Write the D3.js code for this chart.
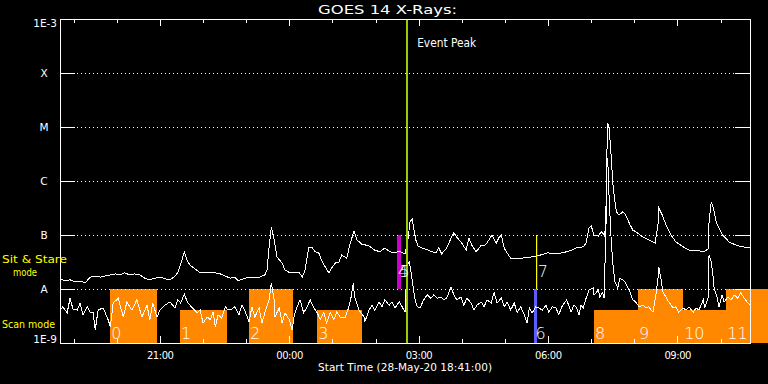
<!DOCTYPE html>
<html><head><meta charset="utf-8">
<script src="https://cdn.jsdelivr.net/npm/d3@7"></script>
<style>body{margin:0;background:#000;}svg{display:block;}text{font-family:"DejaVu Sans",sans-serif;}</style>
</head><body><svg id="c" width="768" height="384"></svg>
<script>
// ---------------- data ----------------
const startTime = Date.UTC(2020, 4, 28, 18, 41, 0);   // 28-May-20 18:41:00
const spanMinutes = 960;
const titleText = "GOES 14 X-Rays:";
const xAxisTitle = "Start Time (28-May-20 18:41:00)";
const yTickValues = [1e-9, 1e-8, 1e-7, 1e-6, 1e-5, 1e-4, 1e-3];
const yTickLabels = ["1E-9", "A", "B", "C", "M", "X", "1E-3"];
const eventPeakMinutes = 483;
const eventLabel = "Event Peak";

// [minutes since start, log10 flux (W/m^2)] - long channel (1-8 A)
const longChannel = [[0,-7.81],[7,-7.85],[14,-7.83],[21,-7.87],[28,-7.85],[35,-7.89],[42,-7.78],[49,-7.76],[56,-7.78],[63,-7.76],[70,-7.74],[77,-7.72],[83,-7.74],[90,-7.70],[97,-7.74],[104,-7.72],[111,-7.74],[118,-7.80],[125,-7.83],[132,-7.80],[139,-7.78],[146,-7.81],[153,-7.83],[160,-7.76],[164,-7.69],[168,-7.54],[173,-7.31],[177,-7.48],[181,-7.56],[188,-7.63],[195,-7.70],[202,-7.69],[209,-7.70],[216,-7.70],[223,-7.72],[230,-7.76],[237,-7.80],[243,-7.78],[248,-7.85],[257,-7.80],[267,-7.78],[278,-7.78],[285,-7.74],[288,-7.65],[291,-7.22],[294,-6.85],[298,-7.09],[302,-7.41],[309,-7.52],[313,-7.65],[320,-7.70],[327,-7.69],[333,-7.70],[337,-7.78],[341,-7.65],[346,-7.24],[351,-7.24],[355,-7.31],[360,-7.33],[365,-7.50],[369,-7.59],[374,-7.70],[378,-7.61],[383,-7.52],[388,-7.50],[392,-7.37],[399,-7.43],[403,-7.19],[409,-6.93],[413,-7.09],[420,-7.17],[430,-7.20],[438,-7.28],[445,-7.31],[452,-7.24],[459,-7.31],[466,-7.33],[472,-7.30],[476,-7.33],[480,-7.35],[484,-7.09],[487,-6.76],[490,-6.70],[493,-6.94],[495,-7.09],[498,-7.20],[504,-7.24],[512,-7.28],[518,-7.31],[523,-7.33],[527,-7.24],[531,-7.35],[538,-7.24],[544,-7.06],[548,-6.96],[552,-7.04],[559,-7.15],[565,-7.28],[569,-7.06],[573,-7.19],[579,-7.31],[586,-7.19],[590,-7.20],[594,-7.15],[601,-7.00],[607,-7.15],[611,-7.04],[614,-7.00],[618,-7.24],[622,-7.33],[627,-7.43],[632,-7.44],[641,-7.43],[654,-7.41],[664,-7.39],[678,-7.33],[691,-7.35],[705,-7.31],[712,-7.28],[718,-7.24],[728,-7.22],[732,-7.15],[736,-6.87],[739,-6.83],[743,-7.00],[749,-7.02],[753,-6.94],[755,-6.96],[758,-7.02],[760,-6.35],[761,-5.43],[762,-4.93],[764,-5.02],[767,-5.57],[769,-6.02],[771,-6.26],[774,-6.57],[778,-6.63],[783,-6.57],[787,-6.63],[792,-6.78],[797,-6.91],[801,-6.94],[811,-7.04],[819,-7.09],[828,-7.15],[832,-6.81],[833,-6.50],[838,-6.63],[843,-6.81],[850,-7.00],[857,-7.13],[867,-7.22],[875,-7.28],[885,-7.28],[895,-7.31],[902,-7.26],[903,-6.76],[906,-6.39],[909,-6.50],[913,-6.76],[922,-7.00],[931,-7.13],[941,-7.19],[950,-7.22],[960,-7.24]];

// [minutes since start, log10 flux (W/m^2)] - short channel (0.5-4 A)
const shortChannel = [[0,-8.39],[4,-8.33],[10,-8.44],[14,-8.17],[18,-8.37],[24,-8.39],[28,-8.26],[32,-8.48],[38,-8.33],[42,-8.43],[46,-8.44],[49,-8.76],[53,-8.39],[60,-8.35],[67,-8.57],[70,-8.70],[74,-8.26],[81,-8.17],[88,-8.52],[93,-8.24],[100,-8.39],[107,-8.20],[114,-8.52],[121,-8.30],[125,-8.57],[129,-8.26],[135,-8.52],[139,-8.39],[146,-8.30],[153,-8.24],[160,-8.35],[164,-8.20],[168,-8.26],[173,-8.09],[177,-8.24],[184,-8.35],[191,-8.44],[195,-8.39],[199,-8.63],[205,-8.52],[209,-8.57],[213,-8.43],[216,-8.70],[220,-8.48],[225,-8.54],[230,-8.33],[234,-8.39],[239,-8.37],[243,-8.33],[249,-8.48],[253,-8.30],[257,-8.39],[263,-8.61],[267,-8.33],[271,-8.52],[277,-8.35],[281,-8.63],[285,-8.44],[291,-8.20],[294,-7.89],[298,-8.20],[299,-8.52],[305,-8.35],[309,-8.63],[313,-8.44],[319,-8.57],[323,-8.76],[326,-8.48],[330,-8.33],[334,-8.20],[339,-8.44],[344,-8.33],[348,-8.20],[353,-8.35],[358,-8.44],[362,-8.57],[367,-8.43],[371,-8.63],[376,-8.44],[381,-8.57],[385,-8.43],[390,-8.52],[397,-8.52],[402,-8.33],[405,-8.15],[408,-7.89],[410,-8.15],[416,-8.39],[423,-8.52],[424,-8.61],[430,-8.39],[434,-8.30],[438,-8.39],[444,-8.24],[448,-8.33],[452,-8.20],[458,-8.30],[462,-8.24],[466,-8.35],[472,-8.24],[476,-8.33],[480,-8.43],[483,-7.56],[486,-7.50],[488,-7.65],[491,-7.93],[494,-8.20],[497,-8.33],[501,-8.35],[506,-8.20],[511,-8.11],[516,-8.17],[520,-8.11],[525,-8.17],[530,-8.15],[534,-8.20],[538,-8.17],[544,-7.96],[548,-8.11],[552,-8.20],[558,-8.15],[562,-8.30],[566,-8.17],[572,-8.26],[576,-8.39],[580,-8.30],[586,-8.24],[590,-8.33],[594,-8.20],[600,-8.26],[604,-8.06],[608,-8.26],[614,-8.17],[618,-8.33],[622,-8.24],[627,-8.39],[632,-8.26],[636,-8.43],[641,-8.33],[646,-8.48],[650,-8.63],[653,-8.35],[657,-8.44],[662,-8.33],[666,-8.35],[671,-8.39],[676,-8.30],[680,-8.43],[685,-8.33],[690,-8.35],[694,-8.48],[698,-8.33],[705,-8.20],[711,-8.43],[715,-8.30],[719,-8.35],[722,-8.48],[725,-8.30],[728,-8.35],[732,-8.17],[736,-8.02],[742,-7.98],[743,-8.11],[749,-8.02],[751,-8.15],[755,-8.06],[757,-8.17],[760,-6.63],[761,-5.70],[762,-5.57],[764,-6.31],[767,-7.13],[769,-7.50],[772,-7.87],[776,-7.98],[779,-7.80],[783,-7.83],[786,-7.87],[790,-7.98],[793,-8.06],[797,-8.20],[801,-8.24],[806,-8.33],[811,-8.30],[815,-8.35],[819,-8.33],[825,-8.43],[829,-8.11],[832,-7.80],[833,-7.59],[836,-7.80],[839,-8.06],[843,-8.15],[847,-8.24],[853,-8.35],[857,-8.33],[861,-8.43],[867,-8.35],[871,-8.39],[875,-8.33],[881,-8.43],[885,-8.35],[889,-8.39],[895,-8.20],[897,-8.35],[902,-8.15],[903,-7.37],[906,-7.50],[909,-7.80],[910,-7.98],[914,-8.15],[917,-8.33],[921,-8.11],[924,-8.24],[929,-8.15],[934,-8.20],[938,-8.11],[943,-8.17],[947,-8.07],[952,-8.17],[957,-8.26],[960,-8.30]];

// observation intervals
const intervalIds   = ["0","1","2","3","4","5","6","7","8","9","10","11"];
const intervalStart = [70, 167, 263, 358, 469, 471, 660, 662, 743, 804, 867, 927];
const intervalEnd   = [135, 232, 324, 420, 472, 475, 664, 662, 805, 867, 927, 990];
const intervalKind  = ["scanFull","scanPart","scanFull","scanPart","stare","stare","scanMark","stareMark","scanPart","scanFull","scanPart","scanFull"];

// ---------------- drawing ----------------
const svg = d3.select("#c");
svg.append("rect").attr("width", 768).attr("height", 384).attr("fill", "#000");
const L = 60, R = 750, T = 19, B = 343;
const toDate = m => new Date(startTime + m * 60000);
const x = d3.scaleUtc().domain([toDate(0), toDate(spanMinutes)]).range([L, R]);
const y = d3.scaleLog().domain([1e-9, 1e-3]).range([B, T]);
const yA = y(1e-8), yB = y(1e-7), yBot = y(1e-9);

const styles = {
  scanFull: {fill: "#ff8800", top: yA, bot: yBot},
  scanPart: {fill: "#ff8800", top: yA + (yBot - yA) * 0.39, bot: yBot},
  stare:    {fill: "#cc00cc", top: yB, bot: yA},
  scanMark: {fill: "#5c5cff", top: yA, bot: yBot},
  stareMark:{fill: "#ffff00", top: yB, bot: yA}
};
const intervals = intervalIds.map((id, i) => ({id, s: intervalStart[i], e: intervalEnd[i], k: intervalKind[i]}));

// filled interval blocks
svg.append("g").selectAll("rect").data(intervals.filter(d => d.k !== "stareMark")).join("rect")
  .attr("x", d => x(toDate(d.s))).attr("width", d => x(toDate(d.e)) - x(toDate(d.s)))
  .attr("y", d => styles[d.k].top).attr("height", d => styles[d.k].bot - styles[d.k].top)
  .attr("fill", d => styles[d.k].fill).attr("shape-rendering", "crispEdges");

// dotted grid lines
svg.append("g").selectAll("line").data(yTickValues.slice(1, -1)).join("line")
  .attr("x1", L + 17).attr("x2", R - 15).attr("y1", d => y(d) + 0.5).attr("y2", d => y(d) + 0.5)
  .attr("stroke", "#fff").attr("stroke-dasharray", "1,3").attr("shape-rendering", "crispEdges");

// light curves
const line = d3.line().x(d => x(toDate(d[0]))).y(d => y(Math.pow(10, d[1])));
[longChannel, shortChannel].forEach(series => {
  svg.append("path").datum(series).attr("d", line)
    .attr("fill", "none").attr("stroke", "#fff").attr("stroke-width", 1)
    .attr("shape-rendering", "crispEdges");
});

// yellow marker line (zero-length stare interval)
svg.append("g").selectAll("rect").data(intervals.filter(d => d.k === "stareMark")).join("rect")
  .attr("x", d => Math.round(x(toDate(d.s)))).attr("width", 1.2)
  .attr("y", d => styles[d.k].top).attr("height", d => styles[d.k].bot - styles[d.k].top)
  .attr("fill", "#ffff00");

// event peak line
svg.append("line").attr("x1", x(toDate(eventPeakMinutes))).attr("x2", x(toDate(eventPeakMinutes)))
  .attr("y1", T).attr("y2", B).attr("stroke", "#99cc00").attr("stroke-width", 2).attr("shape-rendering", "crispEdges");
svg.append("text").attr("x", x(toDate(eventPeakMinutes)) + 10).attr("y", 47)
  .attr("fill", "#fff").attr("font-size", 12).attr("textLength", 59).attr("lengthAdjust", "spacingAndGlyphs").text(eventLabel);

// interval labels
svg.append("g").selectAll("text").data(intervals).join("text")
  .attr("x", d => x(toDate(d.s)) + (d.k === "stareMark" ? 2 : 1))
  .attr("y", d => (d.k === "stare" || d.k === "stareMark") ? yA - 12 : yBot - 4)
  .attr("fill", "#fff").attr("font-size", 16).attr("font-weight", 200)
  .text(d => d.id);

// axes (ticks inward)
const ax = svg.append("g").attr("fill", "none");
function styleAxis(g) {
  g.select(".domain").remove();
  g.selectAll("line").attr("stroke", "#fff").attr("shape-rendering", "crispEdges");
  g.selectAll("text").attr("fill", "#fff");
}
const hourTicks = x.ticks(d3.utcHour.every(1));
const majorTicks = x.ticks(d3.utcHour.every(3));
ax.append("g").attr("transform", `translate(0,${B})`)
  .call(d3.axisBottom(x).tickValues(hourTicks).tickSizeInner(-4).tickSizeOuter(0).tickFormat(""))
  .call(styleAxis);
ax.append("g").attr("transform", `translate(0,${T})`)
  .call(d3.axisTop(x).tickValues(hourTicks).tickSizeInner(-4).tickSizeOuter(0).tickFormat(""))
  .call(styleAxis);
ax.append("g").attr("transform", `translate(0,${B})`)
  .call(d3.axisBottom(x).tickValues(majorTicks).tickSizeInner(-7).tickSizeOuter(0).tickPadding(9).tickFormat(d3.utcFormat("%H:%M")))
  .call(styleAxis)
  .call(g => g.selectAll("text").attr("font-size", 10).attr("font-family", "DejaVu Sans")
    .attr("textLength", 27).attr("lengthAdjust", "spacing"));
ax.append("g").attr("transform", `translate(0,${T})`)
  .call(d3.axisTop(x).tickValues(majorTicks).tickSizeInner(-7).tickSizeOuter(0).tickFormat(""))
  .call(styleAxis);
ax.append("g").attr("transform", `translate(${L},0)`)
  .call(d3.axisLeft(y).tickValues(yTickValues.slice(1, -1)).tickSizeInner(-15).tickSizeOuter(0).tickFormat(""))
  .call(styleAxis);
ax.append("g").attr("transform", `translate(${R},0)`)
  .call(d3.axisRight(y).tickValues(yTickValues.slice(1, -1)).tickSizeInner(-15).tickSizeOuter(0).tickFormat(""))
  .call(styleAxis);

// frame
svg.append("rect").attr("x", L + 0.5).attr("y", T + 0.5).attr("width", R - L).attr("height", B - T)
  .attr("fill", "none").attr("stroke", "#fff").attr("stroke-width", 1);

// y labels
svg.append("g").selectAll("text").data(yTickValues).join("text")
  .attr("x", (d, i) => yTickLabels[i].length > 1 ? 57 : 44)
  .attr("y", (d, i) => i === yTickValues.length - 1 ? y(d) + 8 : (i === 0 ? y(d) : y(d) + 4))
  .attr("text-anchor", (d, i) => yTickLabels[i].length > 1 ? "end" : "middle")
  .attr("fill", "#fff").attr("font-size", 10.5)
  .text((d, i) => yTickLabels[i]);

// mode labels
const modeLbl = svg.append("g").attr("fill", "#ffff00").attr("font-size", 10);
modeLbl.append("text").attr("x", 2).attr("y", 263).attr("textLength", 65).attr("lengthAdjust", "spacingAndGlyphs").text("Sit & Stare");
modeLbl.append("text").attr("x", 13).attr("y", 275.5).attr("textLength", 24).attr("lengthAdjust", "spacingAndGlyphs").text("mode");
modeLbl.append("text").attr("x", 2).attr("y", 328).attr("textLength", 53).attr("lengthAdjust", "spacingAndGlyphs").text("Scan mode");

// titles
svg.append("text").attr("x", 387.5).attr("y", 14).attr("text-anchor", "middle").attr("fill", "#fff")
  .attr("font-size", 12.5).attr("textLength", 139).attr("lengthAdjust", "spacingAndGlyphs").text(titleText);
svg.append("text").attr("x", 405).attr("y", 371).attr("text-anchor", "middle").attr("fill", "#fff")
  .attr("font-size", 10.5).attr("textLength", 174).attr("lengthAdjust", "spacing").text(xAxisTitle);
</script></body></html>
